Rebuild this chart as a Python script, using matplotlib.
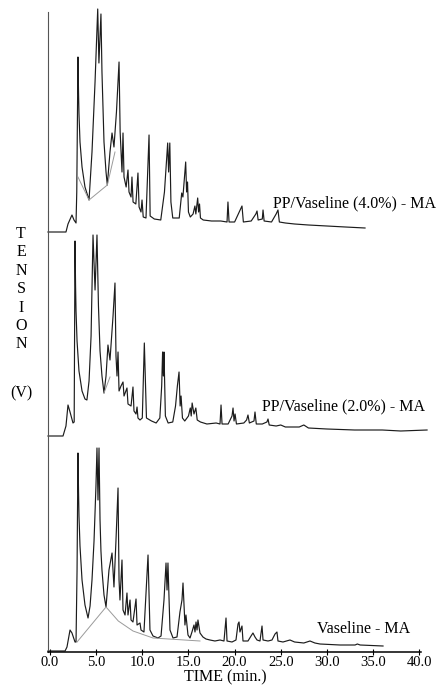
import numpy as np
import matplotlib.pyplot as plt

plt.rcParams['font.family'] = ['Liberation Serif', 'DejaVu Serif']

# chromatogram vertices: (time in min, signal above own baseline)
vaseline = [
    (-0.22, 0), (1.63, 0), (1.84, 4), (2.17, 21), (2.38, 18), (2.71, 9), (2.82, 9),
    (2.93, 80), (3.03, 198), (3.09, 160), (3.14, 135), (3.25, 105), (3.47, 71), (3.79, 46),
    (4.12, 33), (4.34, 45), (4.55, 71), (4.77, 110), (4.98, 165), (5.09, 203), (5.20, 151),
    (5.31, 203), (5.42, 131), (5.52, 100), (5.63, 81), (5.85, 56), (6.07, 44),
    (6.39, 81), (6.72, 98), (6.93, 64), (7.15, 111), (7.37, 163), (7.48, 71), (7.58, 51),
    (7.80, 91), (7.91, 41), (8.13, 36), (8.34, 58), (8.45, 36), (8.67, 51), (8.78, 31),
    (8.99, 29), (9.32, 52), (9.43, 26), (9.75, 28), (9.86, 21), (10.18, 19), (10.62, 96),
    (10.83, 21), (11.16, 15), (11.70, 13), (12.03, 15), (12.35, 51), (12.57, 88), (12.68, 61),
    (12.78, 88), (13.00, 21), (13.33, 13), (13.76, 14), (14.08, 39), (14.30, 51), (14.41, 68),
    (14.62, 26), (14.73, 36), (14.95, 16), (15.17, 13), (15.38, 19), (15.60, 26), (15.71, 19),
    (15.82, 29), (15.93, 21), (16.03, 31), (16.25, 18), (16.57, 14), (16.90, 12), (17.33, 11),
    (17.87, 10), (18.42, 11), (18.85, 10), (19.07, 33), (19.18, 10), (19.72, 9), (20.15, 11),
    (20.37, 27), (20.48, 29), (20.58, 19), (20.80, 25), (20.91, 10), (21.45, 10), (21.78, 15),
    (21.99, 18), (22.21, 14), (22.43, 11), (22.75, 10), (22.97, 25), (23.08, 11), (23.62, 10),
    (24.05, 11), (24.38, 17), (24.59, 19), (24.70, 10), (25.24, 9), (26.00, 11), (26.50, 9),
    (27.50, 8), (28.17, 10), (28.70, 8), (29.25, 7), (31.42, 6), (33.05, 6), (33.30, 7),
    (33.60, 6), (36.08, 5),
]

pp_2 = [
    (-0.22, 0), (1.41, 0), (1.73, 10), (1.95, 31), (2.17, 24), (2.49, 13), (2.62, 14),
    (2.71, 195), (2.77, 150), (2.82, 125), (2.93, 95), (3.14, 65), (3.47, 45), (3.79, 37),
    (4.00, 36), (4.23, 55), (4.45, 100), (4.66, 201), (4.88, 146), (5.09, 201), (5.25, 130),
    (5.42, 85), (5.63, 60), (5.85, 43), (6.07, 60), (6.28, 91), (6.50, 76), (6.83, 120),
    (7.04, 153), (7.15, 80), (7.26, 60), (7.37, 84), (7.48, 45), (7.69, 50), (7.91, 54),
    (8.02, 40), (8.34, 48), (8.45, 32), (8.78, 30), (8.99, 49), (9.10, 25), (9.32, 22),
    (9.43, 29), (9.53, 18), (9.75, 16), (10.00, 18), (10.22, 93), (10.45, 18), (11.00, 15),
    (11.50, 13), (11.90, 18), (12.10, 50), (12.20, 84), (12.28, 60), (12.35, 84), (12.50, 20),
    (12.80, 13), (13.30, 14), (13.60, 30), (13.80, 50), (13.98, 64), (14.10, 30), (14.20, 40),
    (14.35, 18), (14.60, 15), (15.00, 20), (15.20, 28), (15.30, 20), (15.40, 33), (15.60, 22),
    (15.80, 28), (15.95, 16), (16.30, 14), (17.00, 12), (18.00, 13), (18.42, 12), (18.53, 31),
    (18.64, 12), (19.30, 12), (19.72, 20), (19.83, 28), (19.94, 15), (20.05, 22), (20.20, 12),
    (21.00, 13), (21.30, 16), (21.45, 21), (21.60, 13), (22.10, 15), (22.21, 24), (22.35, 12),
    (23.00, 12), (23.50, 14), (23.62, 17), (23.75, 11), (24.50, 10), (25.00, 11), (25.50, 9),
    (27.00, 9), (27.50, 11), (28.00, 8), (30.00, 7), (33.00, 6), (36.00, 6), (38.00, 5),
    (40.85, 6),
]

pp_4 = [
    (-0.22, 0), (1.73, 0), (1.95, 8), (2.38, 17), (2.60, 12), (2.82, 9), (2.90, 40),
    (3.03, 175), (3.09, 140), (3.14, 118), (3.25, 90), (3.47, 65), (3.79, 45), (4.23, 32),
    (4.55, 80), (4.88, 150), (5.17, 223), (5.30, 169), (5.52, 218), (5.63, 160), (5.85, 90),
    (6.07, 60), (6.21, 47), (6.50, 80), (6.72, 99), (6.93, 85), (7.20, 120), (7.48, 170),
    (7.60, 100), (7.80, 60), (7.91, 99), (8.02, 55), (8.25, 45), (8.45, 62), (8.56, 40),
    (8.78, 35), (8.88, 55), (9.00, 30), (9.30, 28), (9.53, 59), (9.65, 25), (9.86, 20),
    (9.97, 32), (10.10, 15), (10.40, 14), (10.73, 97), (10.85, 16), (11.30, 13), (12.00, 12),
    (12.40, 40), (12.75, 89), (12.85, 60), (12.98, 89), (13.10, 30), (13.30, 14), (14.00, 14),
    (14.27, 39), (14.40, 35), (14.70, 70), (14.80, 40), (14.90, 50), (15.00, 20), (15.20, 15),
    (15.50, 18), (15.70, 26), (15.80, 18), (16.00, 34), (16.10, 20), (16.20, 28), (16.30, 14),
    (16.60, 12), (17.50, 11), (18.50, 11), (19.18, 10), (19.28, 30), (19.40, 10), (20.00, 10),
    (20.60, 22), (20.80, 26), (20.95, 10), (21.80, 11), (22.30, 18), (22.43, 21), (22.55, 12),
    (23.00, 13), (23.08, 22), (23.20, 11), (24.00, 10), (24.50, 18), (24.70, 22), (24.85, 10),
    (25.50, 9), (26.50, 8), (28.00, 7), (30.00, 6), (32.00, 5), (34.13, 4),
]

# integration baselines (light grey)
vaseline_base = [(2.93, 9), (6.07, 44), (7.40, 30), (8.99, 20), (11.16, 13), (16.25, 10)]
pp_2_base = [(5.85, 43), (6.50, 59)]
pp_4_base = [(3.03, 55), (4.23, 32), (6.21, 47), (7.04, 80)]

labels = ['Vaseline - MA', 'PP/Vaseline (2.0%) - MA', 'PP/Vaseline (4.0%) - MA']
offsets = [1, 216, 420]
label_pos = [(28.9, 23), (22.97, 246), (24.16, 449)]

traces = [vaseline, pp_2, pp_4]
bases = [vaseline_base, pp_2_base, pp_4_base]

W, H = 437, 687
fig = plt.figure(figsize=(W / 100, H / 100), dpi=100)
ppm = 9.23  # pixels per minute
x0 = 50 - 0.2 * ppm
x1 = 50 + 41.2 * ppm
ax = fig.add_axes([x0 / W, 35 / H, (x1 - x0) / W, 648 / H])
ax.set_xlim(-0.2, 41.2)
ax.set_ylim(0, 648)

for tr, bl, off, lab, (lx, ly) in zip(traces, bases, offsets, labels, label_pos):
    t, h = np.array(tr).T
    ax.plot(t, h + off, color='#1c1c1c', lw=0.85, clip_on=False)
    bt, bh = np.array(bl).T
    ax.plot(bt, bh + off, color='#9a9a9a', lw=0.7, clip_on=False)
    ax.text(lx, ly, lab, fontsize=11.5, ha='left', va='center')

for s in ['top', 'right']:
    ax.spines[s].set_visible(False)
ax.spines['left'].set_bounds(0, 640)
ax.spines['bottom'].set_bounds(-0.2, 40.2)
ax.spines['left'].set_color('#555555')
ax.spines['bottom'].set_linewidth(1.1)

ticks = np.arange(0, 41, 5)
ax.set_xticks(ticks)
ax.set_xticklabels(['%.1f' % v for v in ticks], fontsize=10.5)
ax.tick_params(axis='x', direction='inout', length=4, width=0.8, pad=1)
ax.set_yticks([])

fig.text(225 / W, 1 - 677 / H, 'TIME (min.)', fontsize=11.5, ha='center', va='center')
fig.text(21 / W, 1 - 226 / H, 'T\nE\nN\nS\nI\nO\nN', fontsize=11.5, ha='center',
         va='top', multialignment='center', linespacing=1.2)
fig.text(21 / W, 1 - 393 / H, '(V)', fontsize=11.5, ha='center', va='center')

fig.savefig('out.png', dpi=100)
